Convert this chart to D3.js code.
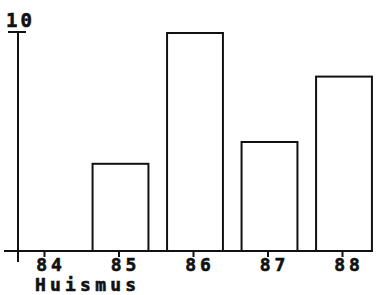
<!DOCTYPE html>
<html>
<head>
<meta charset="utf-8">
<script src="https://cdn.jsdelivr.net/npm/d3@7"></script>
<style>
  body { margin: 0; background: #fff; }
  text { font-family: "DejaVu Sans Mono", monospace; font-weight: bold; fill: #111; stroke: #111; stroke-width: 0.6; }
</style>
</head>
<body>
<div class="chart"></div>
<script>
// data
const years = ["84", "85", "86", "87", "88"];
const counts = [0, 4, 10, 5, 8];
const yTicks = [10];
const xTitle = "Huismus";

const width = 380, height = 295;
const ink = "#111";

const svg = d3.select(".chart").append("svg")
    .attr("width", width)
    .attr("height", height);

const x = d3.scalePoint().domain(years).range([44, 342]);
const y = d3.scaleLinear().domain([0, 10]).range([251, 33]);
const barW = x.step() * 0.75;

// bars
svg.append("g").selectAll("rect")
    .data(years.map((d, i) => ({ year: d, value: counts[i] })).filter(d => d.value > 0))
    .join("rect")
    .attr("x", d => x(d.year) + 2 - barW / 2)
    .attr("y", d => y(d.value))
    .attr("width", barW)
    .attr("height", d => y(0) - y(d.value))
    .attr("fill", "#fff")
    .attr("stroke", ink)
    .attr("stroke-width", 2);

// y axis line + top tick
svg.append("line")
    .attr("x1", 18).attr("x2", 18)
    .attr("y1", y(10) - 1).attr("y2", y(0) + 11)
    .attr("stroke", ink).attr("stroke-width", 2);

svg.append("g").selectAll("line")
    .data(yTicks)
    .join("line")
    .attr("x1", 8).attr("x2", 26)
    .attr("y1", d => y(d) - 1).attr("y2", d => y(d) - 1)
    .attr("stroke", ink).attr("stroke-width", 2);

svg.append("g").selectAll("text")
    .data(yTicks)
    .join("text")
    .attr("x", 6)
    .attr("y", d => y(d) - 6)
    .attr("font-size", 19)
    .attr("letter-spacing", 3)
    .text(d => d);

// baseline
svg.append("line")
    .attr("x1", 4).attr("x2", 373)
    .attr("y1", y(0)).attr("y2", y(0))
    .attr("stroke", ink).attr("stroke-width", 2);

// x axis ticks
const xAxis = d3.axisBottom(x).tickSize(6).tickFormat("");
const gx = svg.append("g")
    .attr("transform", "translate(0," + y(0) + ")")
    .call(xAxis);
gx.select(".domain").remove();
gx.selectAll(".tick line").attr("stroke", ink).attr("stroke-width", 2);

svg.append("g").selectAll("text")
    .data(years)
    .join("text")
    .attr("x", d => x(d) + 7)
    .attr("y", 271)
    .attr("text-anchor", "middle")
    .attr("font-size", 18)
    .attr("letter-spacing", 4)
    .text(d => d);

svg.append("text")
    .attr("x", 35)
    .attr("y", 291)
    .attr("font-size", 18)
    .attr("letter-spacing", 4.2)
    .text(xTitle);
</script>
</body>
</html>
